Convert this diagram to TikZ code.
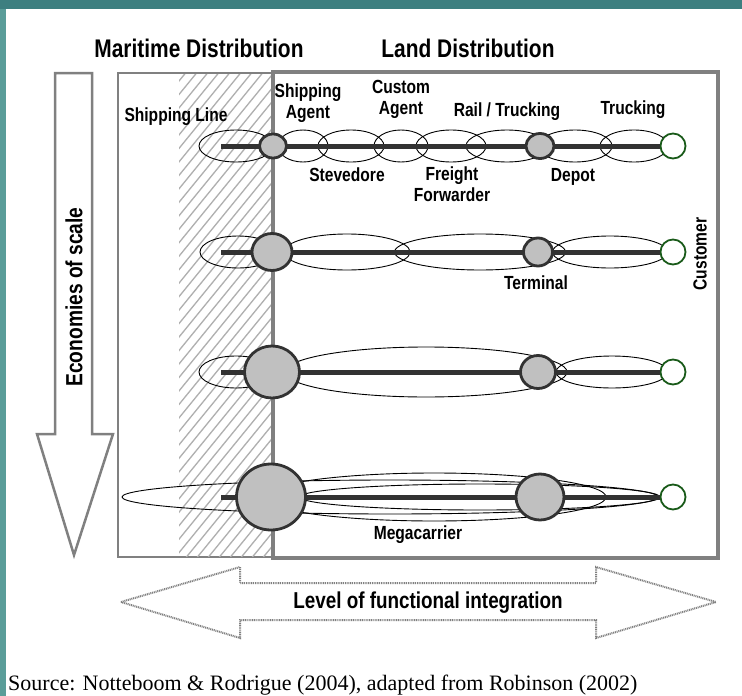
\documentclass[tikz,border=0pt]{standalone}
\usepackage{fontspec}
\setmainfont{Liberation Sans}[FakeStretch=0.82]
\newfontfamily\srcfont{Liberation Serif}
\usetikzlibrary{positioning, shapes.geometric}
\definecolor{tealtop}{RGB}{61,127,128}
\definecolor{tealside}{RGB}{90,157,153}
\definecolor{boxgray}{RGB}{128,128,128}
\definecolor{hatchgray}{RGB}{175,175,175}
\definecolor{railgray}{RGB}{50,50,50}
\definecolor{portgray}{RGB}{192,192,192}
\definecolor{custgreen}{RGB}{25,90,25}
\tikzset{
  lbl/.style={
      font=\bfseries\fontsize{19}{21}\selectfont,
      align=center,
      inner sep=0pt
    },
  title/.style={
      font=\bfseries\fontsize{25.5}{30}\selectfont,
      inner sep=0pt
    },
  seg/.style 2 args={
      ellipse,
      draw=black,
      line width=0.9pt,
      inner sep=0pt,
      minimum width=#1,
      minimum height=#2
    },
  hub/.style 2 args={
      ellipse,
      draw=railgray,
      fill=portgray,
      line width=2.8pt,
      inner sep=0pt,
      minimum width=#1,
      minimum height=#2
    },
  cust/.style={
      circle,
      draw=custgreen,
      fill=white,
      line width=1.8pt,
      minimum size=25pt,
      inner sep=0pt
    },
  rail/.style={
      draw=railgray,
      line width=5pt
    },
  frame/.style={
      draw=boxgray,
      line width=2.5pt
    },
  dotarr/.style={
      draw=gray,
      line width=2pt,
      dash pattern=on 1pt off 0.8pt
    }
}

\begin{document}
\begin{tikzpicture}[x=1pt, y=-1pt]
  \useasboundingbox (0,0) rectangle (742,696);
  \fill[tealside] (0,0) rectangle (742,696);
  \fill[tealtop] (0,0) rectangle (742,9);
  \fill[white] (6,9) rectangle (742,696);

  % maritime and land boxes
  \draw[frame] (118,73) rectangle (272,557);
  \begin{scope}
    \clip (179,74) rectangle (271,556);
    \foreach \x in {-300,-289,...,280}
      \draw[hatchgray, line width=1.3pt] (\x,560) -- ++(400,-490);
  \end{scope}
  \draw[boxgray, line width=4.5pt] (273,72) rectangle (718,558);

  \node[title] (mar) at (199,48) {Maritime Distribution};
  \node[title] (land) at (468,48) {Land Distribution};

  % row 1: separate actors
  \node[seg={74pt}{32pt}] (sl1) at (236,146) {};
  \foreach \n/\cx/\w in {sa/303/50pt, st/351/66pt, ca/401/54pt, ff/451/70pt,
                         rt/507/82pt, dp/575/74pt, tr/634/68pt}
    \node[seg={\w}{32pt}] (\n) at (\cx,146) {};

  % row 2
  \node[seg={76pt}{32pt}] (sl2) at (238,252) {};
  \node[seg={126pt}{36pt}] (e2a) at (347,252) {};
  \node[seg={171pt}{36pt}] (e2b) at (480,252) {};
  \node[seg={115pt}{32pt}] (e2c) at (610,252) {};

  % row 3
  \node[seg={74pt}{32pt}] (sl3) at (236,372) {};
  \node[seg={282pt}{50pt}] (e3a) at (426,372) {};
  \node[seg={112pt}{32pt}] (e3b) at (612,372) {};

  % row 4
  \node[seg={536pt}{34pt}] (e4a) at (390,497) {};
  \node[seg={344pt}{48pt}] (e4b) at (434,497) {};
  \node[seg={360pt}{26pt}] (e4c) at (480,497) {};

  \foreach \r/\y in {1/146, 2/252, 3/372, 4/497} {
    \node[cust] (c\r) at (673,\y) {};
    \coordinate (s\r) at (221,\y);
    \draw[rail] (s\r) -- (c\r);
  }

  \node[hub={27pt}{24pt}] (p1) at (273,146) {};
  \node[hub={28pt}{25pt}] (d1) at (540,146) {};
  \node[hub={40pt}{37pt}] (p2) at (272,252) {};
  \node[hub={29pt}{28pt}] (t2) at (538,252) {};
  \node[hub={55pt}{52pt}] (p3) at (272,372) {};
  \node[hub={35pt}{33pt}] (t3) at (538,372) {};
  \node[hub={69pt}{66pt}] (p4) at (271,497) {};
  \node[hub={48pt}{46pt}] (t4) at (540,497) {};

  % labels
  \node[lbl] (lsl) at (176,117) {Shipping Line};
  \node[lbl] (lsa) at (308,103) {Shipping\\Agent};
  \node[lbl] (lca) at (401,99) {Custom\\Agent};
  \node[lbl] (lrt) at (507,112) {Rail / Trucking};
  \node[lbl] (ltr) at (633,110) {Trucking};
  \node[lbl] (lst) at (347,175) {Stevedore};
  \node[lbl] (lff) at (452,184) {Freight\\Forwarder};
  \node[lbl] (ldp) at (573,177) {Depot};
  \node[lbl] (lte) at (536,283) {Terminal};
  \node[lbl] (lmc) at (418,535) {Megacarrier};
  \node[lbl, rotate=90] (lcu) at (700,254) {Customer};

  % economies of scale
  \draw[frame, line join=miter] (55,73) -- (92,73) -- (92,434) -- (113,434)
    -- (74,555) -- (37,434) -- (55,434) -- cycle;
  \node[lbl, font=\bfseries\fontsize{23.4}{26}\selectfont, rotate=90] (eos) at (74,297) {Economies of scale};

  % functional integration
  \draw[dotarr] (121,602) -- (240,567) -- (240,583) -- (596,583) -- (596,567)
    -- (716,602) -- (596,638) -- (596,620) -- (240,620) -- (240,638) -- cycle;
  \node[lbl, font=\bfseries\fontsize{23}{26}\selectfont] (lfi) at (428,603) {Level of functional integration};

  \node[anchor=west, inner sep=0pt, font=\srcfont\fontsize{22}{26}\selectfont] (src) at (8,685)
    {Source: Notteboom \& Rodrigue (2004), adapted from Robinson (2002)};
\end{tikzpicture}
\end{document}
